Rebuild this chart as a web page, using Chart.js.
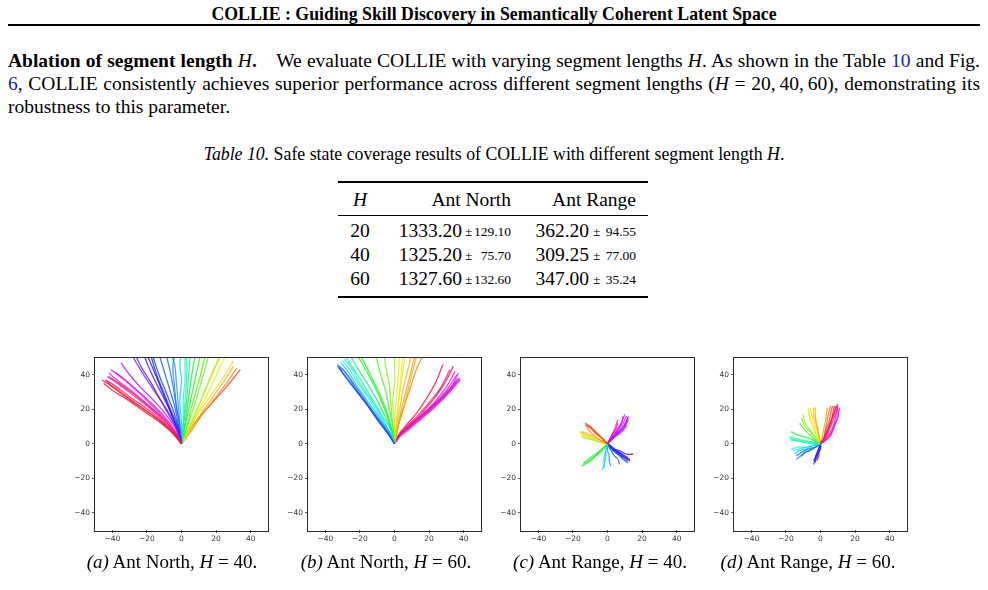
<!DOCTYPE html>
<html>
<head>
<meta charset="utf-8">
<script src="https://cdn.jsdelivr.net/npm/chart.js@4.4.1/dist/chart.umd.min.js"></script>
<style>
  body { margin: 0; width: 988px; height: 590px; overflow: hidden; background: #fff; color: #000;
         font-family: "Liberation Serif", "Times New Roman", serif; position: relative; }
  .abs { position: absolute; white-space: nowrap; }
  .ref { color: #1f1f9a; }
  .line { position: absolute; left: 8px; width: 972px; font-size: 19.5px; line-height: 23px; }
  .jl { text-align: justify; text-align-last: justify; }
  .cell { position: absolute; font-size: 19.5px; line-height: 24px; white-space: nowrap; }
  .sm { font-size: 13.5px; }
  .rule { position: absolute; left: 338px; width: 310px; background: #000; }
  .plot { position: absolute; }
  .cap { position: absolute; width: 240px; text-align: center; font-size: 19px; line-height: 22px; white-space: nowrap; }
</style>
</head>
<body>

<div class="abs" style="left:0;top:3px;width:988px;text-align:center;font-weight:bold;font-size:17.8px;line-height:22px;">COLLIE : Guiding Skill Discovery in Semantically Coherent Latent Space</div>
<div class="abs" style="left:8px;top:24px;width:972px;height:1.6px;background:#000;"></div>

<div class="line jl" style="top:49px;"><b>Ablation of segment length <i style="font-weight:normal">H</i>.</b>&ensp;&ensp;We evaluate COLLIE with varying segment lengths <i>H</i>. As shown in the Table <span class="ref">10</span> and Fig.</div>
<div class="line jl" style="top:72px;"><span class="ref">6</span>, COLLIE consistently achieves superior performance across different segment lengths (<i>H</i> = 20,&thinsp;40,&thinsp;60), demonstrating its</div>
<div class="line" style="top:95px;">robustness to this parameter.</div>

<div class="abs" style="left:0;top:143px;width:988px;text-align:center;font-size:17.8px;line-height:22px;"><i>Table 10.</i> Safe state coverage results of COLLIE with different segment length <i>H</i>.</div>

<div class="rule" style="top:181px;height:1.5px;"></div>
<div class="rule" style="top:215px;height:1px;"></div>
<div class="rule" style="top:296px;height:1.5px;"></div>

<div class="cell" style="left:340px;width:40px;text-align:center;top:188px;"><i>H</i></div>
<div class="cell" style="left:400px;width:111px;text-align:right;top:188px;">Ant North</div>
<div class="cell" style="left:525px;width:111px;text-align:right;top:188px;">Ant Range</div>

<div id="tableBody"></div>

<div class="plot" style="left:65px;top:351px;"><canvas id="plotA" width="209" height="201"></canvas></div>
<div class="plot" style="left:278px;top:351px;"><canvas id="plotB" width="209" height="201"></canvas></div>
<div class="plot" style="left:491px;top:351px;"><canvas id="plotC" width="209" height="201"></canvas></div>
<div class="plot" style="left:704px;top:351px;"><canvas id="plotD" width="209" height="201"></canvas></div>

<div class="cap" style="left:52px;top:551px;"><i>(a)</i> Ant North, <i>H</i> = 40.</div>
<div class="cap" style="left:266px;top:551px;"><i>(b)</i> Ant North, <i>H</i> = 60.</div>
<div class="cap" style="left:480px;top:551px;"><i>(c)</i> Ant Range, <i>H</i> = 40.</div>
<div class="cap" style="left:688px;top:551px;"><i>(d)</i> Ant Range, <i>H</i> = 60.</div>

<script>
// table values
const segmentLengths = [20, 40, 60];
const northMean = ['1333.20', '1325.20', '1327.60'];
const northStd = ['129.10', '75.70', '132.60'];
const rangeMean = ['362.20', '309.25', '347.00'];
const rangeStd = ['94.55', '77.00', '35.24'];

// plot axes
const tickValues = [-40, -20, 0, 20, 40];
const axisMin = -50;
const axisMax = 50;

// skill id (position on the colour map) and xy trajectory for each skill
const northH40Skill = [0.97, 0.99, 0.96, 0.94, 0.90, 0.88, 0.81, 0.78, 0.74, 0.69, 0.67, 0.64, 0.62, 0.60,
  0.57, 0.53, 0.49, 0.39, 0.35, 0.29, 0.26, 0.22, 0.18, 0.15, 0.12, 0.08, 0.03,
  0.92, 0.84, 0.71, 0.65, 0.58, 0.45, 0.32, 0.20];
const northH40Paths = [
  [[0,0],[-4,5],[-10,11],[-20,19],[-30,26],[-38,32],[-46,37]],
  [[0,0],[-5,6],[-12,12],[-22,19],[-32,26],[-40,31],[-45,35]],
  [[0,0],[-4,6],[-11,13],[-21,21],[-31,28],[-39,34],[-44,37]],
  [[0,0],[-5,6],[-12,13],[-22,20],[-32,27],[-40,33],[-43,36]],
  [[0,0],[-4,7],[-10,14],[-19,22],[-28,30],[-36,36],[-42,41]],
  [[0,0],[-4,7],[-11,15],[-20,23],[-29,30],[-36,35],[-42,39]],
  [[0,0],[-4,8],[-10,16],[-19,25],[-28,33],[-35,39],[-41,43]],
  [[0,0],[-3,8],[-9,17],[-16,25],[-24,33],[-30,40],[-35,47]],
  [[0,0],[-3,9],[-8,19],[-14,28],[-20,37],[-25,45],[-29,52]],
  [[0,0],[-3,10],[-7,20],[-12,30],[-17,40],[-22,52]],
  [[0,0],[-3,10],[-7,20],[-11,30],[-15,40],[-20,52]],
  [[0,0],[-2,10],[-5,20],[-9,30],[-13,40],[-17,52]],
  [[0,0],[-2,12],[-4,22],[-7,32],[-10,42],[-13,52]],
  [[0,0],[-1,10],[-3,22],[-5,34],[-7,44],[-9,52]],
  [[0,0],[-1,12],[-2,24],[-3,36],[-4,46],[-6,52]],
  [[0,0],[0,12],[-1,25],[0,37],[-1,46],[0,52]],
  [[0,0],[1,12],[1,25],[2,37],[2,52]],
  [[0,0],[1,10],[3,25],[4,38],[5,52]],
  [[0,0],[2,12],[4,26],[6,40],[8,52]],
  [[0,0],[3,10],[6,22],[10,36],[14,52]],
  [[0,0],[4,12],[8,24],[12,38],[16,52]],
  [[0,0],[5,10],[10,22],[15,34],[20,46],[22,52]],
  [[0,0],[5,10],[11,21],[17,33],[22,44],[26,52]],
  [[0,0],[5,9],[10,18],[17,28],[24,38],[30,48]],
  [[0,0],[5,8],[11,17],[18,27],[25,37],[30,45]],
  [[0,0],[6,8],[12,17],[19,26],[26,35],[32,44]],
  [[0,0],[4,7],[10,15],[18,24],[26,33],[34,43]],
  [[0,0],[-4,6],[-11,14],[-20,22],[-29,29],[-37,35],[-43,39]],
  [[0,0],[-4,7],[-10,15],[-18,23],[-26,31],[-33,37],[-38,41]],
  [[0,0],[-3,9],[-8,18],[-13,27],[-18,36],[-23,44],[-27,52]],
  [[0,0],[-2,9],[-6,19],[-10,29],[-14,39],[-18,52]],
  [[0,0],[-1,11],[-3,22],[-4,33],[-5,44],[-4,52]],
  [[0,0],[1,11],[2,24],[3,38],[3,52]],
  [[0,0],[2,10],[5,24],[8,38],[11,52]],
  [[0,0],[4,9],[9,20],[14,32],[19,44],[24,52]]
];

const northH60Skill = [0.63, 0.61, 0.58, 0.54, 0.50, 0.44, 0.39, 0.33, 0.29, 0.26, 0.22, 0.19,
  0.15, 0.12, 0.11, 0.08, 0.97, 0.94, 0.90, 0.86, 0.82, 0.79, 0.78,
  0.60, 0.47, 0.36, 0.17, 0.10, 0.80, 0.83, 0.92];
const northH60Paths = [
  [[0,0],[-4,6],[-9,13],[-16,23],[-23,32],[-29,40],[-33,45]],
  [[0,0],[-4,6],[-10,14],[-17,24],[-24,33],[-30,41],[-32,44]],
  [[0,0],[-3,6],[-9,14],[-16,24],[-23,34],[-29,42],[-33,46]],
  [[0,0],[-3,7],[-8,14],[-15,24],[-22,34],[-27,42],[-31,47]],
  [[0,0],[-3,7],[-8,15],[-14,25],[-21,35],[-26,43],[-30,48]],
  [[0,0],[-2,8],[-7,16],[-13,26],[-19,36],[-24,44],[-28,50]],
  [[0,0],[-2,8],[-6,17],[-11,27],[-17,37],[-22,45],[-26,52]],
  [[0,0],[-2,10],[-5,20],[-9,30],[-14,40],[-20,52]],
  [[0,0],[-1,10],[-3,20],[-5,30],[-8,40],[-11,52]],
  [[0,0],[-1,10],[-2,22],[-3,34],[-5,44],[-6,52]],
  [[0,0],[0,12],[-1,24],[0,36],[0,52]],
  [[0,0],[0,12],[1,24],[2,38],[3,52]],
  [[0,0],[1,10],[2,22],[4,36],[6,52]],
  [[0,0],[1,10],[3,20],[5,32],[8,44],[10,52]],
  [[0,0],[2,10],[5,20],[8,32],[11,44],[13,52]],
  [[0,0],[2,10],[5,20],[9,32],[13,44],[17,52]],
  [[0,0],[3,6],[7,11],[13,18],[19,27],[24,36],[28,46]],
  [[0,0],[3,5],[8,10],[15,17],[22,25],[29,35],[34,45]],
  [[0,0],[3,5],[8,10],[15,16],[23,24],[30,33],[35,42]],
  [[0,0],[3,5],[8,9],[15,15],[23,22],[31,30],[37,41]],
  [[0,0],[3,5],[8,9],[15,15],[23,22],[31,30],[38,38]],
  [[0,0],[3,4],[8,8],[15,14],[23,21],[31,29],[38,37]],
  [[0,0],[3,5],[7,9],[14,15],[22,22],[30,30],[37,38]],
  [[0,0],[-4,7],[-9,14],[-16,23],[-23,33],[-28,41],[-32,45]],
  [[0,0],[-3,7],[-7,15],[-13,25],[-20,35],[-25,44],[-29,49]],
  [[0,0],[-2,9],[-5,18],[-9,28],[-14,38],[-19,47],[-22,52]],
  [[0,0],[1,10],[2,20],[3,32],[4,44],[5,52]],
  [[0,0],[2,10],[4,20],[7,32],[10,44],[12,52]],
  [[0,0],[3,5],[8,9],[15,15],[22,21],[30,29],[36,36]],
  [[0,0],[3,5],[8,10],[15,16],[23,23],[30,31],[36,40]],
  [[0,0],[3,6],[8,11],[14,17],[21,25],[27,33],[32,43]]
];

const rangeH40Skill = [0.79, 0.78, 0.76, 0.81, 0.83, 0.88, 0.89, 0.03, 0.06, 0.08, 0.14, 0.16, 0.19,
  0.24, 0.32, 0.35, 0.38, 0.51, 0.54, 0.57, 0.61, 0.64, 0.67, 0.68, 0.71,
  0.80, 0.77, 0.66, 0.63, 0.05, 0.12];
const rangeH40Paths = [
  [[0,0],[3,4],[6,8],[8,12],[10,17]],
  [[0,0],[3,4],[6,7],[9,10],[12,15]],
  [[0,0],[4,4],[7,7],[10,10],[12,14]],
  [[0,0],[3,3],[7,6],[10,9],[11,11]],
  [[0,0],[2,4],[5,8],[8,12],[9,16]],
  [[0,0],[2,4],[4,8],[5,11],[6,14]],
  [[0,0],[2,3],[3,6],[5,9],[6,12]],
  [[0,0],[-3,3],[-7,7],[-10,10],[-13,12]],
  [[0,0],[-3,3],[-7,6],[-10,9],[-13,11]],
  [[0,0],[-4,2],[-8,5],[-11,8],[-12,10]],
  [[0,0],[-4,1],[-8,3],[-12,5],[-16,7]],
  [[0,0],[-4,2],[-9,4],[-13,5],[-16,6]],
  [[0,0],[-5,1],[-9,3],[-13,4],[-15,5]],
  [[0,0],[-4,1],[-8,2],[-12,3],[-15,4]],
  [[0,0],[-3,-3],[-7,-6],[-11,-9],[-14,-12]],
  [[0,0],[-3,-3],[-6,-6],[-10,-10],[-15,-13]],
  [[0,0],[-3,-4],[-7,-7],[-11,-10],[-14,-11]],
  [[0,0],[-1,-4],[-2,-8],[-2,-12],[-3,-15]],
  [[0,0],[-1,-4],[-1,-8],[-2,-12],[-2,-14]],
  [[0,0],[0,-4],[1,-7],[1,-10],[2,-13]],
  [[0,0],[2,-4],[4,-7],[6,-9],[7,-12]],
  [[0,0],[3,-3],[6,-6],[9,-8],[12,-10]],
  [[0,0],[3,-3],[6,-5],[10,-8],[13,-9]],
  [[0,0],[3,-3],[7,-4],[11,-6],[15,-6]],
  [[0,0],[3,-2],[6,-5],[9,-7],[12,-8]],
  [[0,0],[3,4],[6,8],[9,12],[11,16]],
  [[0,0],[3,3],[7,7],[10,11],[12,16]],
  [[0,0],[3,-3],[7,-5],[10,-7],[13,-10]],
  [[0,0],[3,-4],[6,-6],[9,-9],[12,-11]],
  [[0,0],[-3,3],[-6,6],[-9,9],[-12,11]],
  [[0,0],[-4,2],[-8,4],[-12,6],[-15,7]]
];

const rangeH60Skill = [0.81, 0.83, 0.89, 0.94, 0.99, 0.04, 0.07, 0.10, 0.11, 0.13, 0.17, 0.19, 0.24, 0.26,
  0.31, 0.38, 0.42, 0.44, 0.49, 0.51, 0.54, 0.58, 0.62, 0.65, 0.68, 0.71, 0.74,
  0.85, 0.97, 0.15, 0.46, 0.60, 0.69];
const rangeH60Paths = [
  [[0,0],[3,2],[6,5],[8,10],[10,15],[11,21]],
  [[0,0],[3,2],[6,6],[8,11],[10,16],[10,20]],
  [[0,0],[3,3],[5,8],[7,13],[9,18],[10,22]],
  [[0,0],[2,3],[4,8],[6,13],[8,18],[10,23]],
  [[0,0],[2,3],[4,7],[6,12],[7,17],[8,22]],
  [[0,0],[2,3],[3,8],[5,13],[6,18],[7,22]],
  [[0,0],[2,4],[3,9],[4,14],[5,19],[6,22]],
  [[0,0],[1,4],[2,9],[3,14],[4,21]],
  [[0,0],[-1,5],[-2,10],[-3,16],[-3,21]],
  [[0,0],[-1,5],[-2,10],[-4,16],[-4,21]],
  [[0,0],[-2,5],[-4,10],[-6,15],[-7,21]],
  [[0,0],[-2,4],[-4,9],[-6,14],[-7,19]],
  [[0,0],[-3,4],[-6,8],[-9,12],[-10,17]],
  [[0,0],[-3,3],[-6,7],[-9,10],[-11,15]],
  [[0,0],[-3,2],[-6,5],[-9,8],[-12,12]],
  [[0,0],[-4,2],[-9,4],[-13,5],[-17,7]],
  [[0,0],[-5,1],[-10,2],[-14,3],[-18,4]],
  [[0,0],[-5,1],[-9,1],[-14,2],[-18,3]],
  [[0,0],[-5,-1],[-9,-2],[-13,-2],[-17,-3]],
  [[0,0],[-4,-1],[-8,-2],[-12,-3],[-16,-4]],
  [[0,0],[-4,-1],[-8,-3],[-12,-4],[-15,-6]],
  [[0,0],[-3,-2],[-7,-4],[-10,-6],[-14,-9]],
  [[0,0],[-3,-2],[-6,-4],[-9,-5],[-11,-7]],
  [[0,0],[-1,-3],[-2,-6],[-3,-9],[-4,-12]],
  [[0,0],[-1,-3],[-2,-6],[-3,-8],[-3,-11]],
  [[0,0],[0,-3],[-1,-5],[-2,-8],[-2,-10]],
  [[0,0],[0,-2],[-1,-5],[-1,-7],[-2,-9]],
  [[0,0],[3,3],[6,7],[8,12],[9,17],[10,21]],
  [[0,0],[2,3],[4,8],[6,13],[8,18],[9,22]],
  [[0,0],[-1,5],[-3,10],[-5,16],[-6,21]],
  [[0,0],[-5,0],[-10,1],[-14,2],[-17,2]],
  [[0,0],[-3,-2],[-7,-3],[-11,-5],[-14,-7]],
  [[0,0],[-1,-3],[-2,-5],[-3,-8],[-4,-10]]
];

// table rows
const rowCenters = [231, 255, 279];
let rows = '';
segmentLengths.forEach((h, i) => {
  const top = rowCenters[i] - 12;
  rows += `<div class="cell" style="left:340px;width:40px;text-align:center;top:${top}px;">${h}</div>`;
  rows += `<div class="cell" style="left:380px;width:82px;text-align:right;top:${top}px;">${northMean[i]}</div>`;
  rows += `<div class="cell sm" style="left:465px;top:${top + 1}px;">±</div>`;
  rows += `<div class="cell sm" style="left:470px;width:41px;text-align:right;top:${top + 1}px;">${northStd[i]}</div>`;
  rows += `<div class="cell" style="left:509px;width:80px;text-align:right;top:${top}px;">${rangeMean[i]}</div>`;
  rows += `<div class="cell sm" style="left:593px;top:${top + 1}px;">±</div>`;
  rows += `<div class="cell sm" style="left:598px;width:38px;text-align:right;top:${top + 1}px;">${rangeStd[i]}</div>`;
});
document.getElementById('tableBody').innerHTML = rows;

// colour map for skills
function skillColour(t) {
  return `hsla(${Math.round(t * 360)}, 90%, 52%, 0.8)`;
}

function tickLabel(v) {
  return v < 0 ? '\u2212' + (-v) : String(v);
}

// box round the plot area
const frame = {
  id: 'frame',
  afterDraw(chart) {
    const { ctx, chartArea: a } = chart;
    ctx.save();
    ctx.strokeStyle = '#2a2a2a';
    ctx.lineWidth = 1;
    ctx.strokeRect(Math.round(a.left) - 0.5, Math.round(a.top) - 0.5, Math.round(a.width) + 1, Math.round(a.height) + 1);
    ctx.restore();
  }
};

function axisOptions(fitKey, fitSize) {
  return {
    type: 'linear',
    min: axisMin,
    max: axisMax,
    afterBuildTicks: axis => { axis.ticks = tickValues.map(value => ({ value })); },
    afterFit: axis => { axis[fitKey] = fitSize; },
    grid: { display: true, drawOnChartArea: false, drawTicks: true, tickLength: 3, tickColor: '#333', tickWidth: 0.8 },
    border: { display: false },
    ticks: {
      autoSkip: false,
      maxRotation: 0,
      padding: 2,
      color: '#333',
      font: { family: 'DejaVu Sans', size: 7.5 },
      callback: tickLabel
    }
  };
}

function drawPlot(id, skills, paths) {
  new Chart(document.getElementById(id), {
    type: 'line',
    data: {
      datasets: paths.map((path, i) => ({
        data: path.map(([x, y]) => ({ x, y })),
        borderColor: skillColour(skills[i]),
        borderWidth: 1.3,
        pointRadius: 0,
        tension: 0.35,
        fill: false
      }))
    },
    options: {
      responsive: false,
      animation: false,
      devicePixelRatio: 1,
      layout: { padding: { top: 6, right: 6, left: 0, bottom: 0 } },
      plugins: { legend: { display: false }, tooltip: { enabled: false } },
      scales: {
        x: axisOptions('height', 22),
        y: axisOptions('width', 30)
      }
    },
    plugins: [frame]
  });
}

drawPlot('plotA', northH40Skill, northH40Paths);
drawPlot('plotB', northH60Skill, northH60Paths);
drawPlot('plotC', rangeH40Skill, rangeH40Paths);
drawPlot('plotD', rangeH60Skill, rangeH60Paths);
</script>
</body>
</html>
